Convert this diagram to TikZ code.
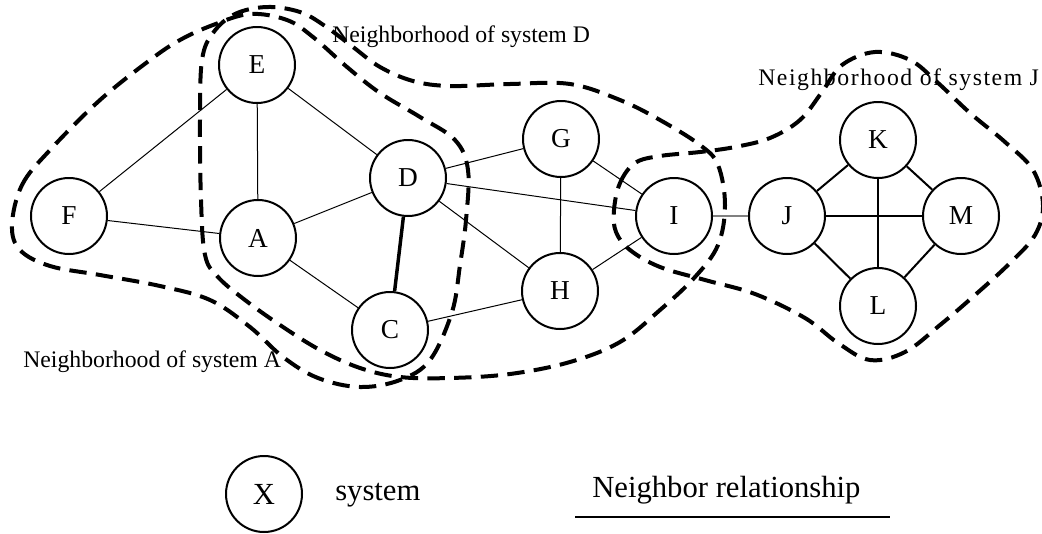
\documentclass[tikz,border=0pt]{standalone}
\usepackage{fontspec}
\setmainfont{Liberation Serif}
\usepackage{tikz}

\begin{document}
\begin{tikzpicture}[x=0.75pt,y=-0.75pt,
        sys/.style={draw,circle,line width=1.5pt,minimum size=57pt,inner sep=0pt,font=\fontsize{20.5}{24}\selectfont},
        link/.style={line width=0.75pt},
        solidlink/.style={line width=1.5pt},
        hood/.style={line width=3pt,dash pattern=on 13pt off 7pt},
        hoodlabel/.style={anchor=base west,inner sep=0pt,font=\fontsize{17.8}{20}\selectfont},
        keylabel/.style={anchor=base west,inner sep=0pt,font=\fontsize{23}{26}\selectfont}]
            \useasboundingbox (0,0) rectangle (1042,533);

            \node[sys] (E) at (257,65) {E};
            \node[sys] (F) at (69,216) {F};
            \node[sys] (A) at (258,238) {A};
            \node[sys] (D) at (408,178) {D};
            \node[sys] (C) at (390,330) {C};
            \node[sys] (G) at (561,139) {G};
            \node[sys] (H) at (560,291) {H};
            \node[sys] (I) at (674,216) {I};
            \node[sys] (J) at (787,216) {J};
            \node[sys] (K) at (878,140) {K};
            \node[sys] (M) at (961,216) {M};
            \node[sys] (L) at (878,306) {L};

            \draw[link] (E) -- (F);
            \draw[link] (E) -- (A);
            \draw[link] (E) -- (D);
            \draw[link] (F) -- (A);
            \draw[link] (A) -- (D);
            \draw[link] (A) -- (C);
            \draw[line width=2.6pt] (D) -- (C);
            \draw[link] (D) -- (G);
            \draw[link] (D) -- (I);
            \draw[link] (D) -- (H);
            \draw[link] (G) -- (H);
            \draw[link] (G) -- (I);
            \draw[link] (H) -- (I);
            \draw[link] (C) -- (H);
            \draw[solidlink,gray] (I) -- (J);
            \draw[solidlink] (J) -- (K);
            \draw[solidlink] (J) -- (M);
            \draw[solidlink] (J) -- (L);
            \draw[solidlink] (K) -- (M);
            \draw[solidlink] (K) -- (L);
            \draw[solidlink] (L) -- (M);

            \node[hoodlabel] (hoodD) at (332,42) {Neighborhood of system D};
            \node[hoodlabel,font=\fontsize{17.8}{20}\selectfont\addfontfeatures{LetterSpace=6.5}] (hoodJ) at (758,85) {Neighborhood of system J};
            \node[hoodlabel] (hoodA) at (23,367) {Neighborhood of system A};

            \draw[hood] plot[smooth cycle,tension=0.6] coordinates {(12,225) (22,185) (50,150) (100,100) (150,60) (180,40) (213,25) (250,14) (287,20) (313,37) (347,67) (380,93) (420,117) (455,140) (468,170) (466,220) (460,265) (452,312) (430,360) (400,380) (360,387) (318,378) (283,357) (250,327) (210,300) (160,286) (100,275) (50,266) (20,250)};
            \draw[hood] plot[smooth cycle,tension=0.6] coordinates {(202,60) (213,33) (235,14) (267,7) (300,12) (325,26) (353,47) (380,67) (413,81) (450,86) (510,84) (570,84) (620,100) (660,120) (700,145) (718,165) (725,205) (718,245) (695,277) (660,310) (620,342) (570,362) (510,374) (450,378) (400,377) (360,368) (320,350) (280,325) (245,300) (218,277) (205,255) (201,200) (200,120)};
            \draw[hood] plot[smooth cycle,tension=0.6] coordinates {(614,210) (620,183) (635,163) (660,156) (700,152) (735,147) (770,138) (800,120) (822,92) (842,65) (875,52) (910,60) (937,82) (970,113) (1005,142) (1033,170) (1043,205) (1035,235) (1010,263) (975,295) (940,325) (905,352) (870,360) (838,343) (805,318) (755,294) (705,280) (660,267) (630,250) (616,232)};

            \node[sys,font=\fontsize{23}{26}\selectfont] (X) at (264,494) {X};
            \node[keylabel] (sysname) at (335,500) {system};
            \node[keylabel] (relname) at (592,497) {Neighbor relationship};
            \coordinate (relleft) at (575,517);
            \coordinate (relright) at (890,517);
            \draw[solidlink] (relleft) -- (relright);
\end{tikzpicture}
\end{document}
